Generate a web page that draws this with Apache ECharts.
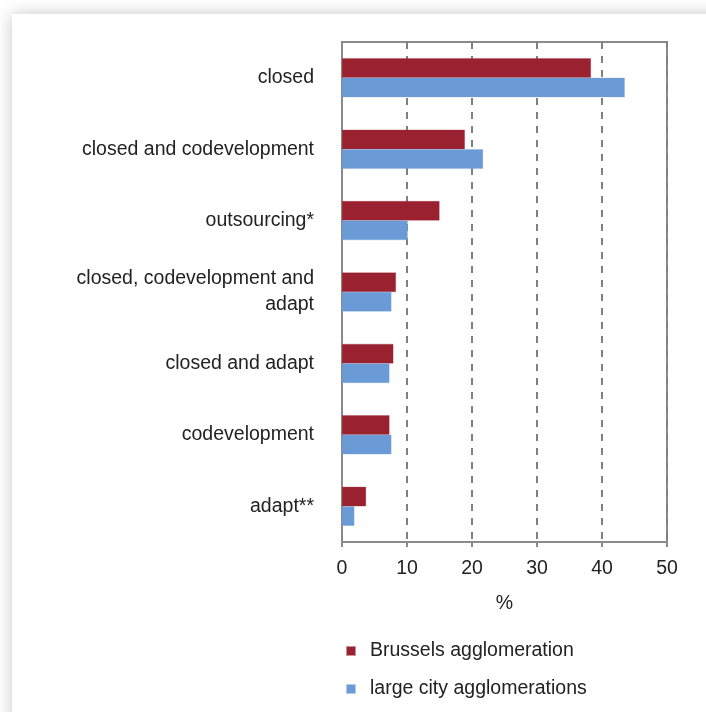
<!DOCTYPE html>
<html>
<head>
<meta charset="utf-8">
<script src="https://cdn.jsdelivr.net/npm/echarts@6/dist/echarts.min.js"></script>
<style>
html,body{margin:0;padding:0;background:#fff;}
#c{width:706px;height:712px;}
</style>
</head>
<body>
<div id="c"></div>
<script>
var categories = ['closed', 'closed and codevelopment', 'outsourcing*', 'closed, codevelopment and\nadapt', 'closed and adapt', 'codevelopment', 'adapt**'];
var brussels = [38.3, 18.9, 15.0, 8.3, 7.9, 7.3, 3.7];
var largeCity = [43.5, 21.7, 10.1, 7.6, 7.3, 7.6, 1.9];
var seriesNames = ['Brussels agglomeration', 'large city agglomerations'];
var xTicks = [0, 10, 20, 30, 40, 50];

var chart = echarts.init(document.getElementById('c'), null, {renderer: 'canvas'});
var font = 'Liberation Sans, Arial, Helvetica, sans-serif';
chart.setOption({
  animation: false,
  backgroundColor: '#ffffff',
  textStyle: {fontFamily: font},
  graphic: [{
    type: 'rect', z: -10, silent: true,
    shape: {x: 12, y: 14, width: 900, height: 900},
    style: {fill: '#ffffff', shadowBlur: 16, shadowColor: 'rgba(0,0,0,0.22)', shadowOffsetX: 0, shadowOffsetY: 0}
  }],
  grid: {left: 342, right: 39, top: 42, bottom: 170, show: true, borderColor: '#8a8a8a', borderWidth: 2, backgroundColor: 'transparent'},
  legend: {
    orient: 'vertical', left: 341, top: 636, itemWidth: 8, itemHeight: 8, itemGap: 18, icon: 'rect',
    data: seriesNames,
    textStyle: {fontFamily: font, fontSize: 19.5, color: '#222', padding: [0, 0, 0, 10]}
  },
  xAxis: {
    type: 'value', min: xTicks[0], max: xTicks[xTicks.length - 1], interval: 10,
    name: '%', nameLocation: 'middle', nameGap: 52,
    nameTextStyle: {fontFamily: font, fontSize: 19.5, color: '#222'},
    axisLine: {show: true, lineStyle: {color: '#8a8a8a', width: 2}},
    axisTick: {show: true, length: 5, lineStyle: {color: '#8a8a8a', width: 2}},
    axisLabel: {fontFamily: font, fontSize: 19.5, color: '#222', margin: 17},
    splitLine: {show: true, lineStyle: {color: '#808080', width: 2, type: [7, 7]}}
  },
  yAxis: {
    type: 'category', inverse: true, data: categories,
    axisLine: {show: true, lineStyle: {color: '#8a8a8a', width: 2}},
    axisTick: {show: false},
    axisLabel: {fontFamily: font, fontSize: 19.5, color: '#222', margin: 28, lineHeight: 26, align: 'right', padding: [5, 0, 0, 0]}
  },
  series: [
    {name: seriesNames[0], type: 'bar', data: brussels, barWidth: 19.5, barGap: '0%',
      itemStyle: {color: '#9a2130', borderColor: 'rgba(154,33,48,0.5)', borderWidth: 0.5}},
    {name: seriesNames[1], type: 'bar', data: largeCity, barWidth: 19.5, barGap: '0%',
      itemStyle: {color: '#6a9bd6', borderColor: 'rgba(106,155,214,0.5)', borderWidth: 0.5}}
  ]
});
</script>
</body>
</html>
